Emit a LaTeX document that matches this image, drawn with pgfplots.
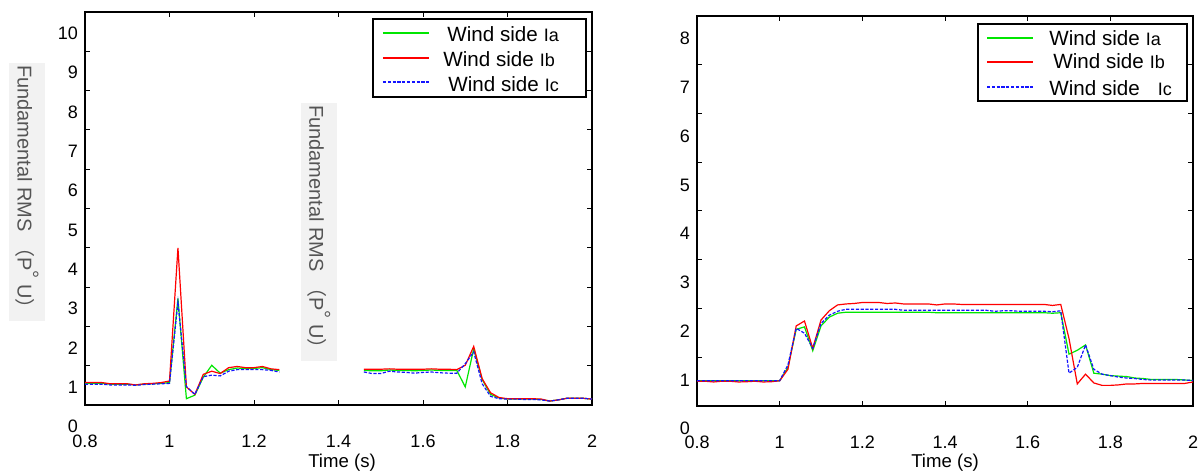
\documentclass[border=0pt]{standalone}
\usepackage{fontspec}
\setmainfont{Liberation Sans}
\newfontfamily\ylabfont[Color=555555]{Liberation Sans}
\newfontfamily\cjk[Color=555555]{Noto Sans CJK SC}
\usepackage{pgfplots}
\pgfplotsset{compat=1.18}
\usepackage{pgfplotstable}

% left chart: Ia (green), Ib (red), Ic (blue), per unit
\pgfplotstableread{
x a b c
0.80 1.10 1.12 1.08
0.82 1.10 1.12 1.08
0.84 1.10 1.12 1.08
0.86 1.08 1.09 1.06
0.88 1.08 1.09 1.06
0.90 1.08 1.09 1.06
0.92 1.06 1.06 1.05
0.94 1.08 1.09 1.07
0.96 1.09 1.10 1.08
0.98 1.10 1.12 1.09
1.00 1.12 1.16 1.10
1.02 3.26 4.55 3.17
1.04 0.71 1.01 1.02
1.06 0.80 0.82 0.82
1.08 1.26 1.33 1.27
1.10 1.56 1.41 1.31
1.12 1.36 1.35 1.29
1.14 1.45 1.50 1.41
1.16 1.49 1.53 1.45
1.18 1.48 1.50 1.45
1.20 1.48 1.50 1.45
1.22 1.50 1.53 1.45
1.24 1.45 1.47 1.43
1.26 1.43 1.45 1.39
nan nan nan nan
1.46 1.43 1.46 1.39
1.48 1.42 1.46 1.35
1.50 1.42 1.46 1.35
1.52 1.44 1.47 1.41
1.54 1.43 1.46 1.39
1.56 1.43 1.46 1.38
1.58 1.42 1.46 1.36
1.60 1.43 1.46 1.38
1.62 1.44 1.47 1.39
1.64 1.43 1.46 1.37
1.66 1.43 1.46 1.36
1.68 1.43 1.45 1.36
1.70 1.01 1.56 1.60
1.72 1.98 2.04 1.90
1.74 1.20 1.22 1.09
1.76 0.82 0.86 0.77
1.78 0.73 0.74 0.71
1.80 0.70 0.71 0.70
1.82 0.70 0.71 0.70
1.84 0.70 0.71 0.69
1.86 0.70 0.71 0.69
1.88 0.69 0.70 0.68
1.90 0.65 0.65 0.65
1.92 0.68 0.68 0.68
1.94 0.72 0.72 0.72
1.96 0.72 0.72 0.72
1.98 0.72 0.72 0.72
2.00 0.70 0.70 0.70
}\leftdata

% right chart
\pgfplotstableread{
x a b c
0.80 0.985 0.975 0.985
0.82 0.985 0.975 0.985
0.84 0.985 0.960 0.985
0.86 0.985 0.975 0.985
0.88 0.985 0.975 0.985
0.90 0.985 0.960 0.985
0.92 0.985 0.965 0.985
0.94 0.985 0.975 0.985
0.96 0.985 0.960 0.985
0.98 0.985 0.965 0.985
1.00 0.985 0.985 0.985
1.02 1.26 1.22 1.31
1.04 2.04 2.11 2.06
1.06 2.09 2.21 1.96
1.08 1.60 1.65 1.65
1.10 2.11 2.23 2.16
1.12 2.29 2.42 2.33
1.14 2.37 2.54 2.41
1.16 2.39 2.56 2.45
1.18 2.39 2.57 2.45
1.20 2.39 2.59 2.45
1.22 2.39 2.59 2.45
1.24 2.39 2.59 2.45
1.26 2.39 2.57 2.45
1.28 2.39 2.58 2.45
1.30 2.39 2.56 2.43
1.32 2.39 2.56 2.43
1.34 2.39 2.56 2.43
1.36 2.39 2.56 2.43
1.38 2.38 2.54 2.43
1.40 2.38 2.56 2.43
1.42 2.38 2.56 2.43
1.44 2.38 2.55 2.43
1.46 2.38 2.55 2.43
1.48 2.38 2.55 2.43
1.50 2.38 2.55 2.43
1.52 2.38 2.55 2.41
1.54 2.38 2.55 2.42
1.56 2.38 2.55 2.42
1.58 2.38 2.55 2.41
1.60 2.38 2.55 2.41
1.62 2.38 2.55 2.41
1.64 2.38 2.55 2.41
1.66 2.37 2.53 2.40
1.68 2.38 2.55 2.42
1.70 1.53 1.85 1.14
1.72 1.61 0.92 1.26
1.74 1.72 1.12 1.72
1.76 1.14 0.94 1.22
1.78 1.12 0.89 1.12
1.80 1.09 0.89 1.09
1.82 1.08 0.90 1.06
1.84 1.07 0.92 1.04
1.86 1.04 0.92 1.03
1.88 1.03 0.93 1.01
1.90 1.01 0.93 1.00
1.92 1.01 0.93 1.00
1.94 1.01 0.93 1.00
1.96 1.01 0.93 1.00
1.98 1.00 0.93 1.00
2.00 0.99 0.96 0.99
}\rightdata

\definecolor{lgreen}{RGB}{0,230,0}
\definecolor{lred}{RGB}{255,0,0}
\definecolor{lblue}{RGB}{20,20,255}
\definecolor{boxgray}{RGB}{242,242,242}

\newcommand{\ylabtext}{\ylabfont Fundamental RMS {\cjk （}P\raisebox{3.5pt}{°} U{\cjk ）}}
\newcommand{\legtext}[2]{Wind side\hspace{#1}{\fontsize{9}{9}\selectfont I#2}}

\tikzset{
  ylab/.style={fill=boxgray, minimum width=125pt,
    minimum height=18pt, inner sep=1pt, font=\fontsize{10}{11}\selectfont},
  legt/.style={anchor=base west, inner sep=0pt, font=\fontsize{10.3}{11}\selectfont},
  sa/.style={color=lgreen, line width=0.6pt},
  sb/.style={color=lred, line width=0.6pt},
  sc/.style={color=lblue, line width=0.6pt, dash pattern=on 1.6pt off 0.8pt},
}

\pgfplotsset{
  mystyle/.style={
    scale only axis,
    anchor=south west,
    xmin=0.8, xmax=2,
    xtick={0.8,1,1.2,1.4,1.6,1.8,2},
    xticklabels={0.8,1,1.2,1.4,1.6,1.8,2},
    tick align=inside,
    tick pos=both,
    major tick length=2.6pt,
    every tick/.style={line width=0.5pt},
    axis line style={line width=0.9pt},
    tick label style={font=\fontsize{9}{10}\selectfont},
    xticklabel style={yshift=-11.5pt},
    /pgf/number format/assume math mode=true,
    xlabel={Time (s)},
    xlabel style={font=\fontsize{9.3}{11}\selectfont, anchor=center},
    unbounded coords=jump,
  },
}

\begin{document}
\begin{tikzpicture}
\useasboundingbox (0,0) rectangle (601pt,237.5pt);
\begin{axis}[mystyle, at={(42.5pt,35pt)}, width=253.5pt, height=196.5pt,
  ymin=0.55, ymax=10.55,
  ytick={0.55,1.55,2.55,3.55,4.55,5.55,6.55,7.55,8.55,9.55,10.55},
  yticklabels={0,1,2,3,4,5,6,7,8,9,10},
  yticklabel style={yshift=-10.75pt},
  xlabel style={at={(axis description cs:0.507,-0.1476)}},
  ylabel={\ylabtext},
  ylabel style={ylab, at={(axis description cs:-0.114,0.542)}, rotate=180, anchor=center},
]
\addplot[sa] table[x=x,y=a]{\leftdata};
\addplot[sb] table[x=x,y=b]{\leftdata};
\addplot[sc] table[x=x,y=c]{\leftdata};
% legend
\draw[line width=0.9pt] (axis cs:1.4817,8.387) rectangle (axis cs:1.9858,10.372);
\addplot[sa, forget plot] coordinates {(1.5053,10.016) (1.6142,10.016)};
\addplot[sb, forget plot] coordinates {(1.5053,9.380) (1.6142,9.380)};
\addplot[sc, forget plot] coordinates {(1.5053,8.769) (1.6142,8.769)};
\node[legt] at (axis cs:1.6568,9.787) {\legtext{3pt}{a}};
\node[legt] at (axis cs:1.6473,9.158) {\legtext{3pt}{b}};
\node[legt] at (axis cs:1.6592,8.522) {\legtext{3pt}{c}};
\node[ylab, rotate=-90] at (axis description cs:0.4615,0.44) {\ylabtext};
\end{axis}

\begin{axis}[mystyle, at={(348.5pt,34.5pt)}, width=248pt, height=195pt,
  ymin=0.467, ymax=8.467,
  ytick={0.467,1.467,2.467,3.467,4.467,5.467,6.467,7.467,8.467},
  yticklabels={0,1,2,3,4,5,6,7,8},
  yticklabel style={yshift=-11.4pt},
  xlabel style={at={(axis description cs:0.5,-0.146)}},
]
\addplot[sa] table[x=x,y=a]{\rightdata};
\addplot[sb] table[x=x,y=b]{\rightdata};
\addplot[sc] table[x=x,y=c]{\rightdata};
% legend
\draw[line width=0.9pt] (axis cs:1.4798,6.723) rectangle (axis cs:1.9855,8.303);
\addplot[sa, forget plot] coordinates {(1.5016,8.016) (1.6129,8.016)};
\addplot[sb, forget plot] coordinates {(1.5016,7.523) (1.6129,7.523)};
\addplot[sc, forget plot] coordinates {(1.5016,7.011) (1.6129,7.011)};
\node[legt] at (axis cs:1.6516,7.872) {\legtext{3pt}{a}};
\node[legt] at (axis cs:1.6613,7.394) {\legtext{3pt}{b}};
\node[legt] at (axis cs:1.6516,6.846) {\legtext{9pt}{c}};
\end{axis}
\end{tikzpicture}
\end{document}
